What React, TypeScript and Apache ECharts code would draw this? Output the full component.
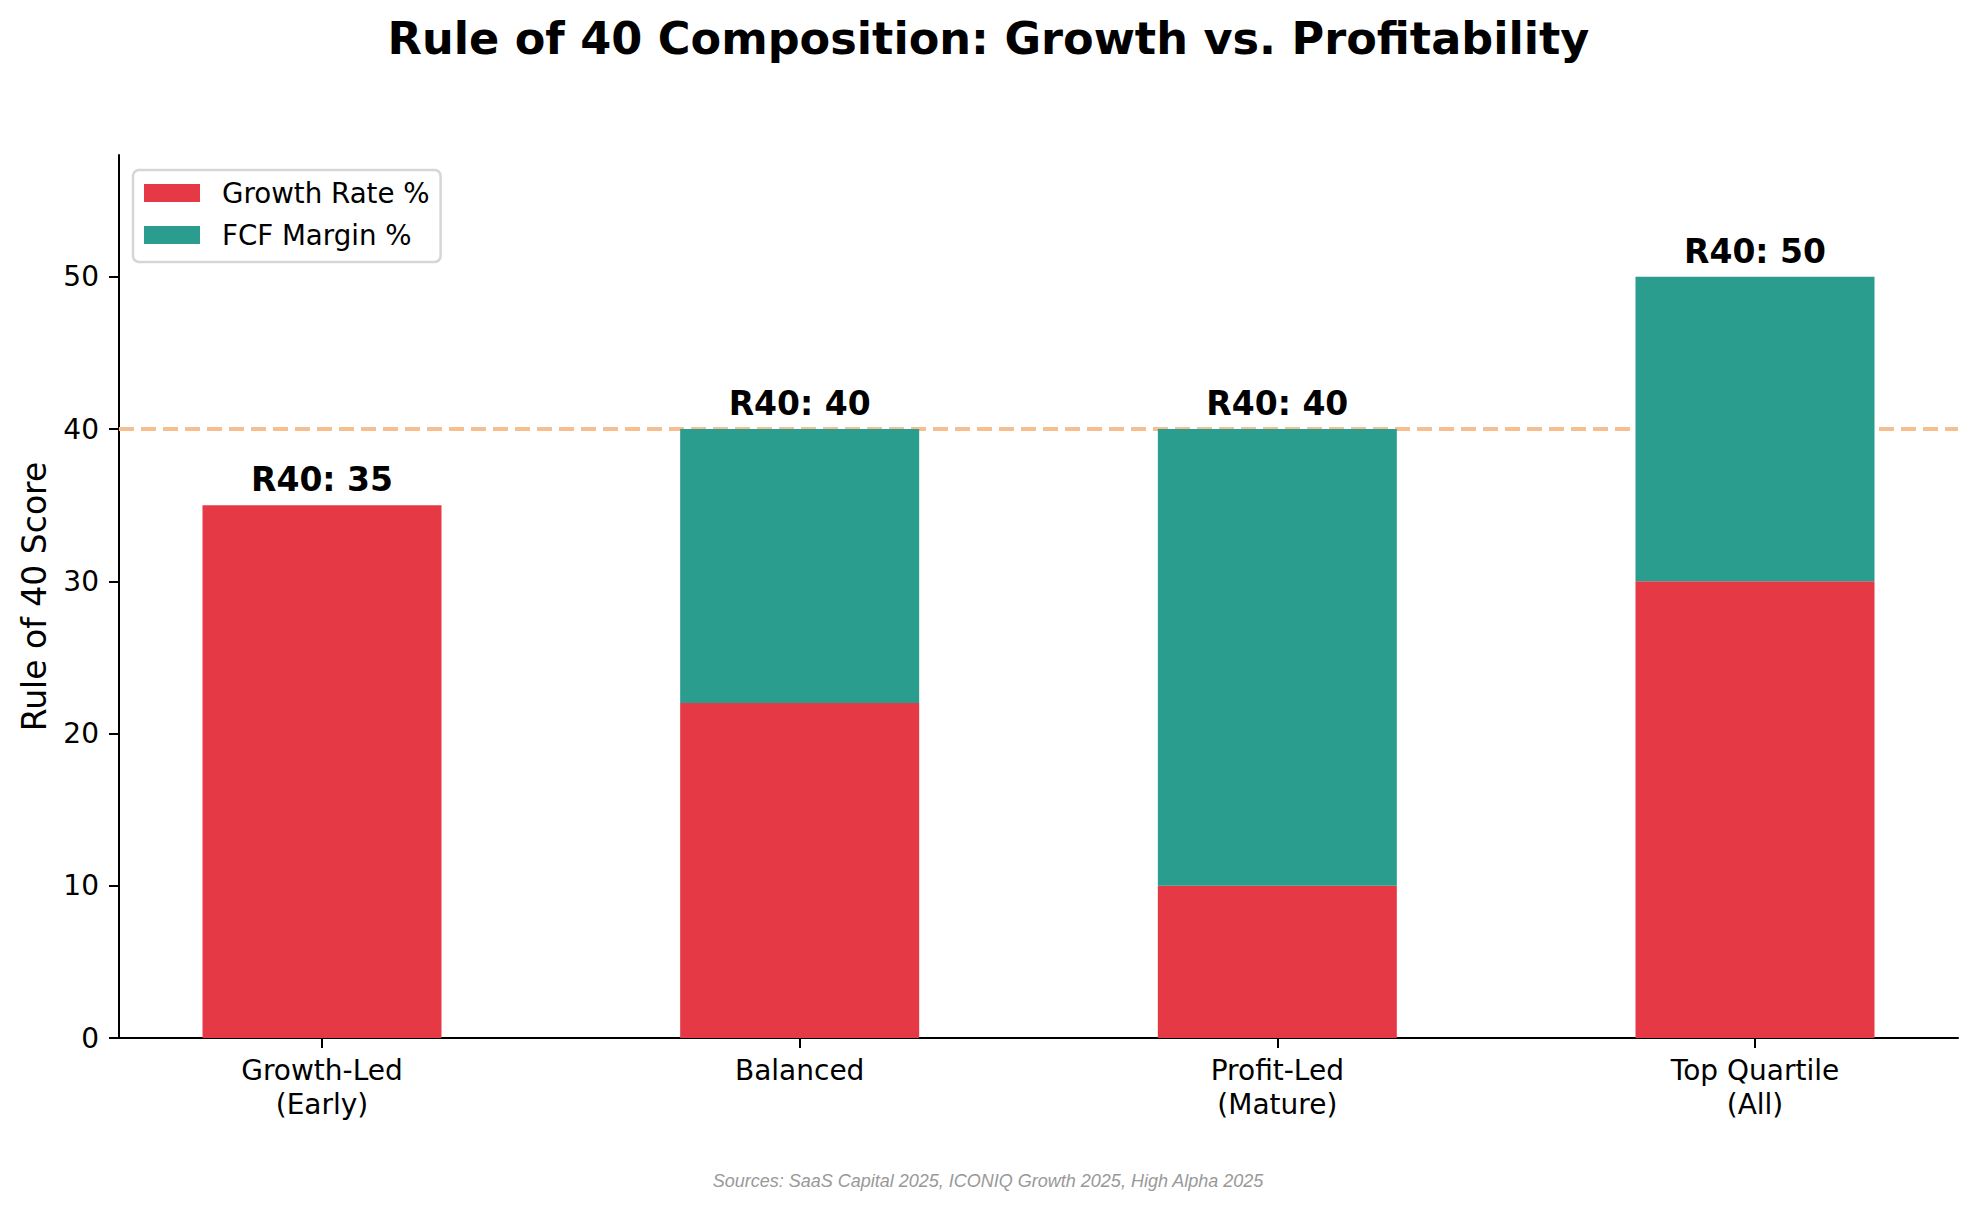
import React, { useEffect, useRef } from "react";
import * as echarts from "echarts";

const categories = ["Growth-Led\n(Early)", "Balanced", "Profit-Led\n(Mature)", "Top Quartile\n(All)"];
const growthRate = [35, 22, 10, 30];
const fcfMargin = [0, 18, 30, 20];
const r40Scores = [35, 40, 40, 50];
const yTicks = [0, 10, 20, 30, 40, 50];
const benchmark = 40;

const FONT = "DejaVu Sans";

export default function App() {
  const ref = useRef<HTMLDivElement>(null);
  useEffect(() => {
    if (!ref.current) return;
    const chart = echarts.init(ref.current, null, { renderer: "svg" });
    const xs = categories.map((_, i) => i);
    chart.setOption({
      animation: false,
      backgroundColor: "#ffffff",
      textStyle: { fontFamily: FONT, color: "#000" },
      title: {
        text: "Rule of 40 Composition: Growth vs. Profitability",
        left: "center",
        top: 17,
        padding: 0,
        textStyle: { fontFamily: FONT, fontSize: 44.6, fontWeight: "bold", color: "#000", lineHeight: 44 },
      },
      legend: {
        orient: "vertical",
        left: 133,
        top: 170,
        data: ["Growth Rate %", "FCF Margin %"],
        icon: "rect",
        itemWidth: 56,
        itemHeight: 18,
        itemGap: 14,
        padding: [9, 11, 13, 11],
        borderColor: "#d6d6d6",
        borderWidth: 2.5,
        borderRadius: 6,
        backgroundColor: "rgba(255,255,255,0.8)",
        textStyle: { fontFamily: FONT, fontSize: 27.7, lineHeight: 28, color: "#000", padding: [0, 0, 0, 17] },
      },
      grid: { left: 119, right: 19, top: 155, bottom: 171, containLabel: false },
      xAxis: {
        type: "value",
        min: -0.425,
        max: 3.425,
        splitLine: { show: false },
        axisLine: { show: true, onZero: false, lineStyle: { color: "#000", width: 2 } },
        axisTick: { show: true, length: 10, lineStyle: { color: "#000", width: 2 }, customValues: xs },
        axisLabel: {
          show: true,
          customValues: xs,
          formatter: (v: number) => categories[Math.round(v)] ?? "",
          fontFamily: FONT,
          fontSize: 28,
          lineHeight: 34,
          color: "#000",
          margin: 15,
          align: "center",
        },
      },
      yAxis: {
        type: "value",
        min: 0,
        max: 58,
        interval: 10,
        name: "Rule of 40 Score",
        nameLocation: "middle",
        nameGap: 68,
        nameTextStyle: { fontFamily: FONT, fontSize: 33, color: "#000" },
        splitLine: { show: false },
        axisLine: { show: true, onZero: false, lineStyle: { color: "#000", width: 2 } },
        axisTick: { show: true, length: 10, lineStyle: { color: "#000", width: 2 }, customValues: yTicks },
        axisLabel: {
          customValues: yTicks,
          fontFamily: FONT,
          fontSize: 28,
          color: "#000",
          margin: 20,
        },
      },
      series: [
        {
          name: "Growth Rate %",
          type: "bar",
          stack: "r40",
          barWidth: 239,
          z: 2,
          itemStyle: { color: "#E63946" },
          encode: { x: 1, y: 0 },
          data: growthRate.map((v, i) => [v, i]),
        },
        {
          name: "FCF Margin %",
          type: "bar",
          stack: "r40",
          barWidth: 239,
          z: 2,
          itemStyle: { color: "#2A9D8F" },
          encode: { x: 1, y: 0 },
          label: {
            show: true,
            position: "top",
            distance: 9,
            fontFamily: FONT,
            fontSize: 33,
            fontWeight: "bold",
            color: "#000",
            formatter: (p: any) => `R40: ${r40Scores[p.dataIndex]}`,
          },
          data: fcfMargin.map((v, i) => [v, i]),
        },
        {
          name: "benchmark",
          type: "line",
          data: [],
          z: 1,
          markLine: {
            silent: true,
            symbol: "none",
            z: 1,
            label: { show: false },
            lineStyle: { color: "#F7BE90", type: [15, 7], width: 4 },
            data: [{ yAxis: benchmark }],
          },
        },
      ],
      graphic: [
        {
          type: "text",
          x: 988,
          y: 1181,
          style: {
            text: "Sources: SaaS Capital 2025, ICONIQ Growth 2025, High Alpha 2025",
            font: "italic 18px 'Liberation Sans'",
            fill: "#999999",
            textAlign: "center",
            textVerticalAlign: "middle",
          },
        },
      ],
    });
    return () => chart.dispose();
  }, []);
  return (
    <div
      ref={ref}
      style={{ position: "absolute", left: 0, top: 0, width: 1977, height: 1209, background: "#fff" }}
    />
  );
}
